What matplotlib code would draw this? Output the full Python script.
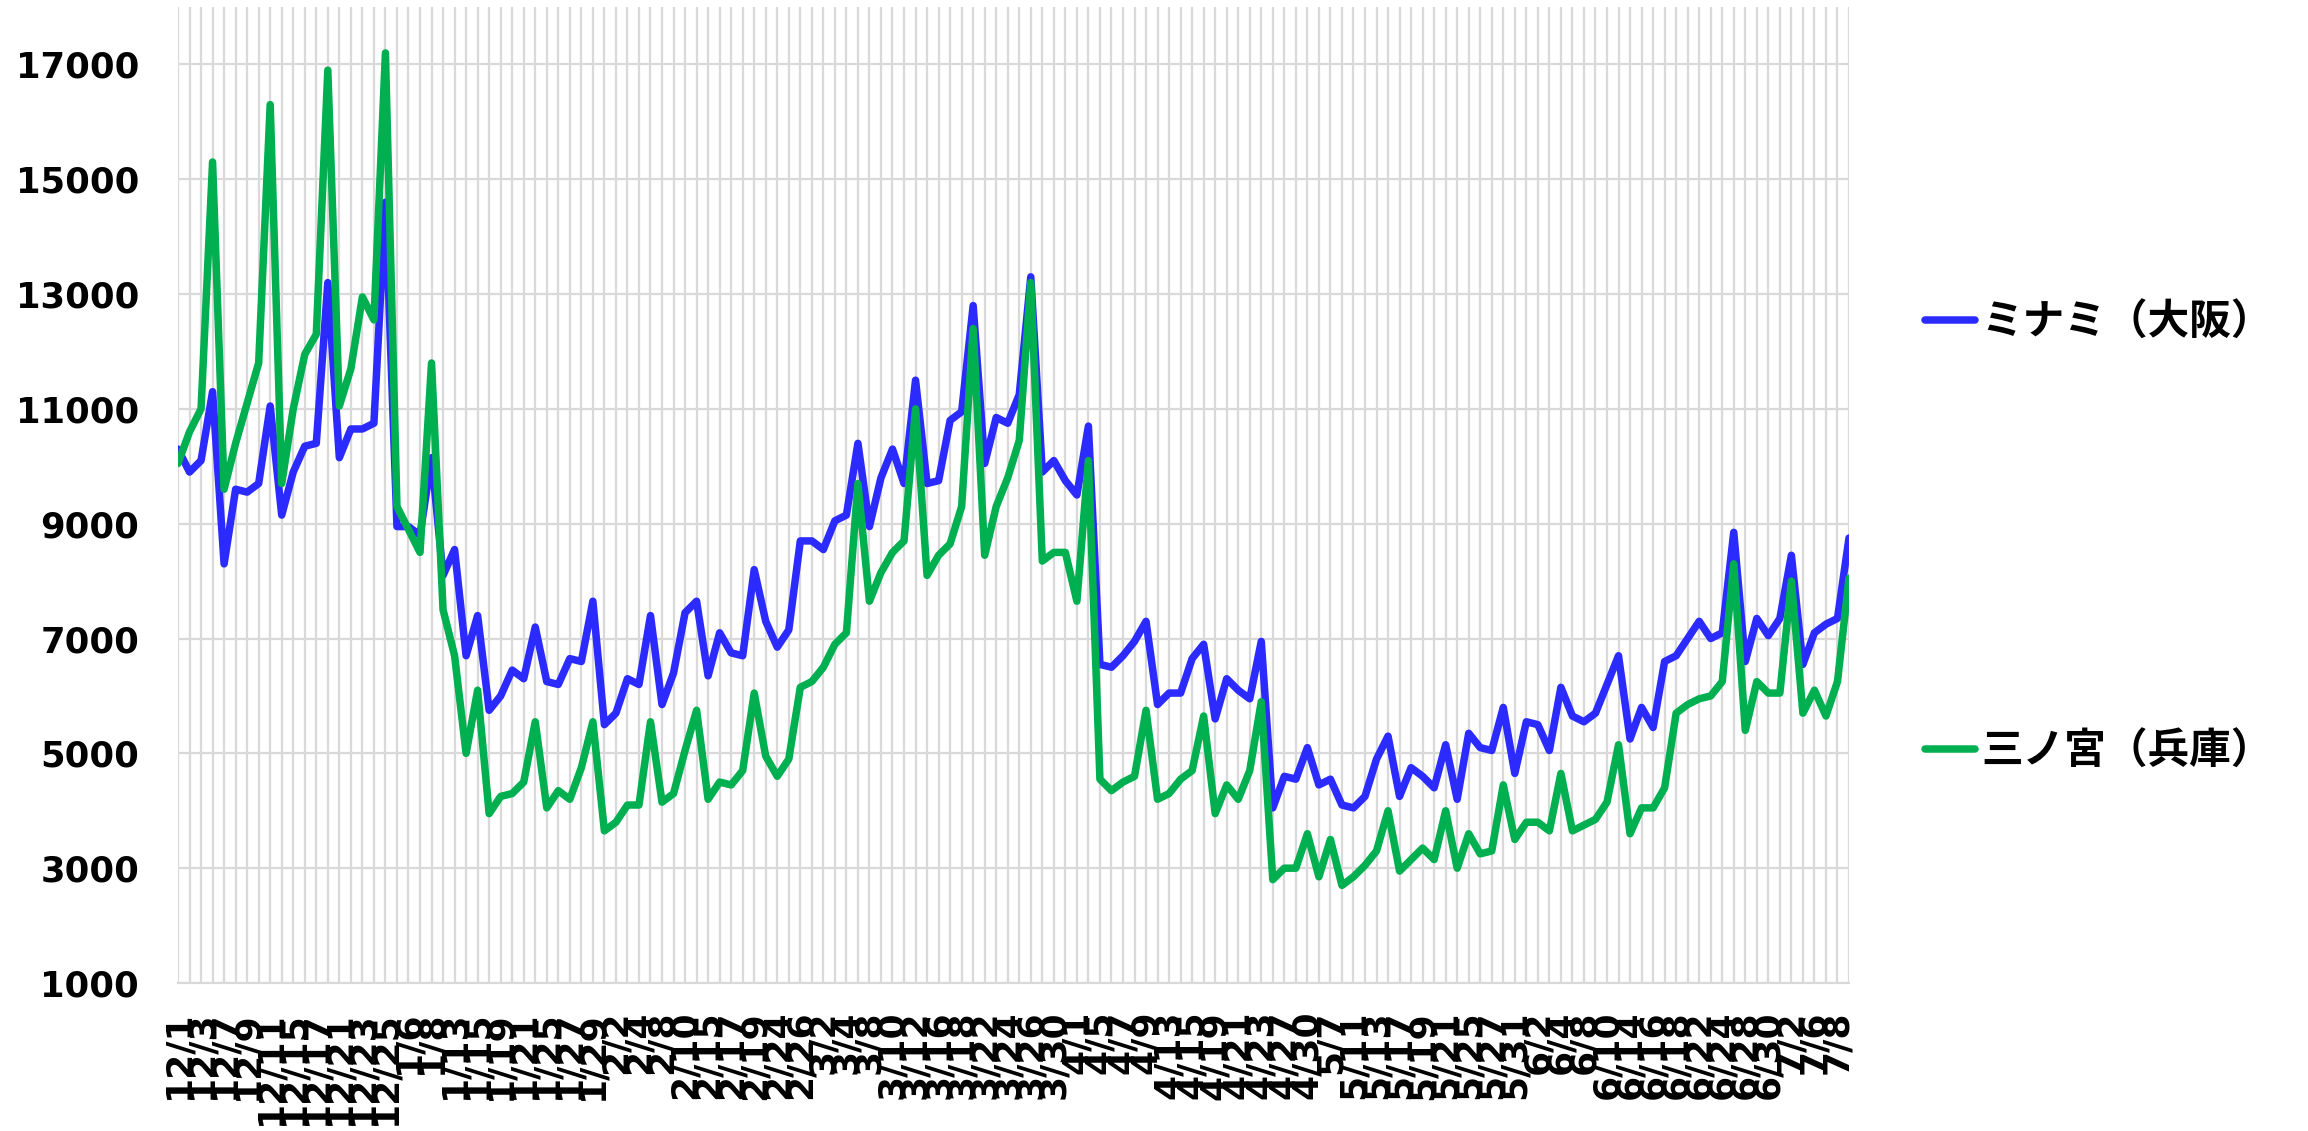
import matplotlib
matplotlib.use("Agg")
import matplotlib.pyplot as plt
from matplotlib.font_manager import FontProperties
from matplotlib.lines import Line2D

dates = ["12/1","12/2","12/3","12/4","12/7","12/8","12/9","12/10","12/11","12/14","12/15","12/16","12/17","12/18","12/21","12/22","12/23","12/24","12/25",
         "1/5","1/6","1/7","1/8","1/12","1/13","1/14","1/15","1/18","1/19","1/20","1/21","1/22","1/25","1/26","1/27","1/28","1/29",
         "2/1","2/2","2/3","2/4","2/5","2/8","2/9","2/10","2/12","2/15","2/16","2/17","2/18","2/19","2/22","2/24","2/25","2/26",
         "3/1","3/2","3/3","3/4","3/5","3/8","3/9","3/10","3/11","3/12","3/15","3/16","3/17","3/18","3/19","3/22","3/23","3/24","3/25","3/26","3/29","3/30","3/31",
         "4/1","4/2","4/5","4/6","4/7","4/8","4/9","4/12","4/13","4/14","4/15","4/16","4/19","4/20","4/21","4/22","4/23","4/26","4/27","4/28","4/30",
         "5/6","5/7","5/10","5/11","5/12","5/13","5/14","5/17","5/18","5/19","5/20","5/21","5/24","5/25","5/26","5/27","5/28","5/31",
         "6/1","6/2","6/3","6/4","6/7","6/8","6/9","6/10","6/11","6/14","6/15","6/16","6/17","6/18","6/21","6/22","6/23","6/24","6/25","6/28","6/29","6/30",
         "7/1","7/2","7/5","7/6","7/7","7/8","7/9"]

minami = [10300, 9900, 10100, 11300, 8300, 9600, 9550, 9700, 11050, 9150,
          9900, 10350, 10400, 13200, 10150, 10650, 10650, 10750, 14600, 8950,
          8950, 8800, 10150, 8100, 8550, 6700, 7400, 5750, 6000, 6450,
          6300, 7200, 6250, 6200, 6650, 6600, 7650, 5500, 5700, 6300,
          6200, 7400, 5850, 6400, 7450, 7650, 6350, 7100, 6750, 6700,
          8200, 7300, 6850, 7150, 8700, 8700, 8550, 9050, 9150, 10400,
          8950, 9800, 10300, 9700, 11500, 9700, 9750, 10800, 10950, 12800,
          10050, 10850, 10750, 11250, 13300, 9900, 10100, 9750, 9500, 10700,
          6550, 6500, 6700, 6950, 7300, 5850, 6050, 6050, 6650, 6900,
          5600, 6300, 6100, 5950, 6950, 4050, 4600, 4550, 5100, 4450,
          4550, 4100, 4050, 4250, 4900, 5300, 4250, 4750, 4600, 4400,
          5150, 4200, 5350, 5100, 5050, 5800, 4650, 5550, 5500, 5050,
          6150, 5650, 5550, 5700, 6200, 6700, 5250, 5800, 5450, 6600,
          6700, 7000, 7300, 7000, 7100, 8850, 6600, 7350, 7050, 7350,
          8450, 6550, 7100, 7250, 7350, 8750]

sannomiya = [10050, 10600, 11000, 15300, 9600, 10400, 11100, 11800, 16300, 9700,
             11000, 11950, 12300, 16900, 11050, 11700, 12950, 12550, 17200, 9300,
             8900, 8500, 11800, 7500, 6700, 5000, 6100, 3950, 4250, 4300,
             4500, 5550, 4050, 4350, 4200, 4750, 5550, 3650, 3800, 4100,
             4100, 5550, 4150, 4300, 5050, 5750, 4200, 4500, 4450, 4700,
             6050, 4950, 4600, 4900, 6150, 6250, 6500, 6900, 7100, 9700,
             7650, 8150, 8500, 8700, 11000, 8100, 8450, 8650, 9300, 12400,
             8450, 9300, 9800, 10450, 13200, 8350, 8500, 8500, 7650, 10100,
             4550, 4350, 4500, 4600, 5750, 4200, 4300, 4550, 4700, 5650,
             3950, 4450, 4200, 4700, 5900, 2800, 3000, 3000, 3600, 2850,
             3500, 2700, 2850, 3050, 3300, 4000, 2950, 3150, 3350, 3150,
             4000, 3000, 3600, 3250, 3300, 4450, 3500, 3800, 3800, 3650,
             4650, 3650, 3750, 3850, 4150, 5150, 3600, 4050, 4050, 4400,
             5700, 5850, 5950, 6000, 6250, 8300, 5400, 6250, 6050, 6050,
             8000, 5700, 6100, 5650, 6250, 8050]

series_names = ["ミナミ（大阪）", "三ノ宮（兵庫）"]
y_ticks = [1000, 3000, 5000, 7000, 9000, 11000, 13000, 15000, 17000]

W, H = 2308, 1131
fig = plt.figure(figsize=(W / 100, H / 100), dpi=100)
ax = fig.add_axes([178 / W, 1 - 983 / H, (1849 - 178) / W, (983 - 7) / H])

x = list(range(len(dates)))
c_blue = "#2B2BFF"
c_green = "#00B050"
lw = 5.4
ax.plot(x, minami, color=c_blue, lw=lw, solid_joinstyle="round", solid_capstyle="round", zorder=3)
ax.plot(x, sannomiya, color=c_green, lw=lw, solid_joinstyle="round", solid_capstyle="round", zorder=4)

ax.set_xlim(0, len(dates) - 1)
ax.set_ylim(1000, 18000)
ax.set_yticks(y_ticks)
ax.set_yticklabels([str(v) for v in y_ticks], fontsize=25.5, fontweight="bold", family="DejaVu Sans")
ax.set_xticks(x)
ax.set_xticklabels([d if i % 2 == 0 else "" for i, d in enumerate(dates)],
                   rotation=90, fontsize=26, fontweight="bold", family="DejaVu Sans")
ax.tick_params(axis="both", length=0)
ax.tick_params(axis="y", pad=28)
ax.tick_params(axis="x", pad=20)
ax.grid(True, color="#D9D9D9", linewidth=1.6, zorder=0)
ax.set_axisbelow(True)
for s in ["top", "right", "left"]:
    ax.spines[s].set_visible(False)
ax.spines["bottom"].set_color("#D9D9D9")
ax.spines["bottom"].set_linewidth(1.6)

handles = [Line2D([0], [0], color=c_blue, lw=lw, solid_capstyle="round"),
           Line2D([0], [0], color=c_green, lw=lw, solid_capstyle="round")]
fp = FontProperties(family=["Noto Sans CJK JP", "DejaVu Sans"], weight="bold", size=30)
fig.legend(handles, series_names, loc="center left", bbox_to_anchor=(1925 / W, 0.525),
           frameon=False, prop=fp, handlelength=1.2, handletextpad=0.15,
           labelspacing=9.3, borderpad=0, borderaxespad=0)

fig.savefig("out.png", dpi=100, facecolor="white")
